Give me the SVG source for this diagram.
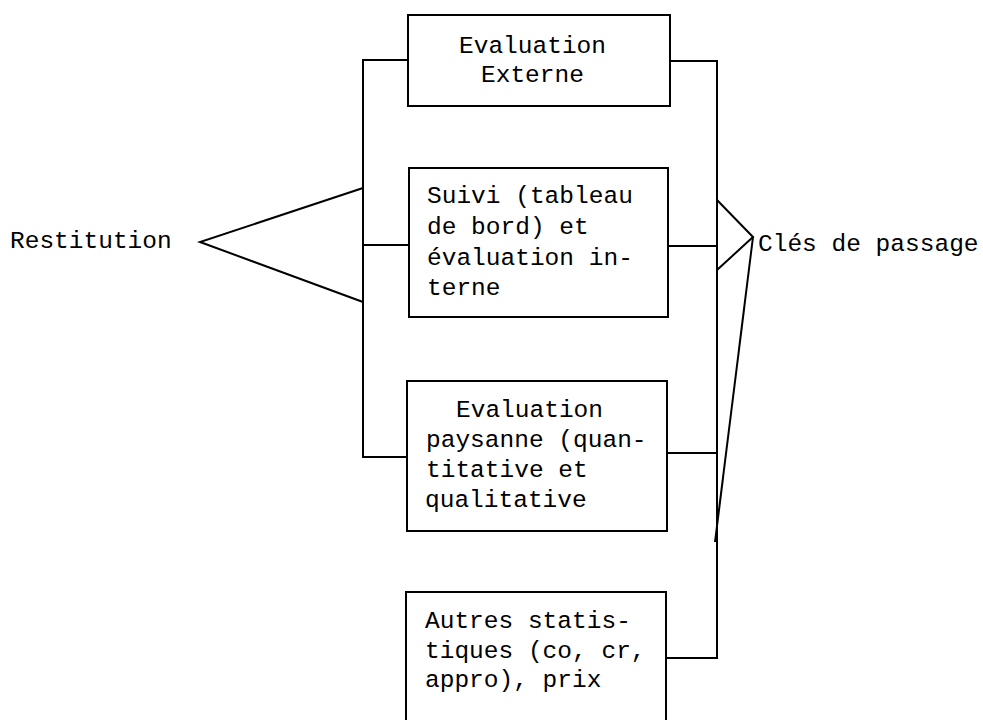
<svg xmlns="http://www.w3.org/2000/svg" width="983" height="720" viewBox="0 0 983 720">
<style>
.box{fill:#fff;stroke:#000;stroke-width:2}
.ln{fill:none;stroke:#000;stroke-width:2}
text{font-family:"Liberation Mono","DejaVu Sans Mono",monospace;font-size:24.5px;fill:#000}
</style>
<rect width="983" height="720" fill="#fff"/>
<g id="connectors">
<path class="ln" d="M408,60 H363 V457 H407"/>
<path class="ln" d="M363,245 H409"/>
<path class="ln" d="M363,188 L200,242 L363,302"/>
<path class="ln" d="M670,61 H717 V658 H666"/>
<path class="ln" d="M668,246 H717"/>
<path class="ln" d="M667,453 H716"/>
<path class="ln" d="M717,200 L753,237 L717,270"/>
<path class="ln" d="M753,237 L715,542"/>
</g>
<g id="restitution"><text x="10" y="248">Restitution</text></g>
<g id="cles"><text x="758" y="251">Clés de passage</text></g>
<g id="evaluation-externe">
<rect class="box" x="408" y="15" width="262" height="91"/>
<text x="459" y="53">Evaluation</text>
<text x="481" y="82">Externe</text>
</g>
<g id="suivi">
<rect class="box" x="409" y="168" width="259" height="149"/>
<text x="427" y="203">Suivi (tableau</text>
<text x="427" y="234">de bord) et</text>
<text x="427" y="265">évaluation in-</text>
<text x="427" y="295">terne</text>
</g>
<g id="evaluation-paysanne">
<rect class="box" x="407" y="381" width="260" height="150"/>
<text x="456" y="417">Evaluation</text>
<text x="426" y="447">paysanne (quan-</text>
<text x="426" y="477">titative et</text>
<text x="425" y="507">qualitative</text>
</g>
<g id="autres-statistiques">
<rect class="box" x="406" y="592" width="260" height="140"/>
<text x="425" y="628">Autres statis-</text>
<text x="425" y="658">tiques (co, cr,</text>
<text x="425" y="687">appro), prix</text>
</g>
</svg>
